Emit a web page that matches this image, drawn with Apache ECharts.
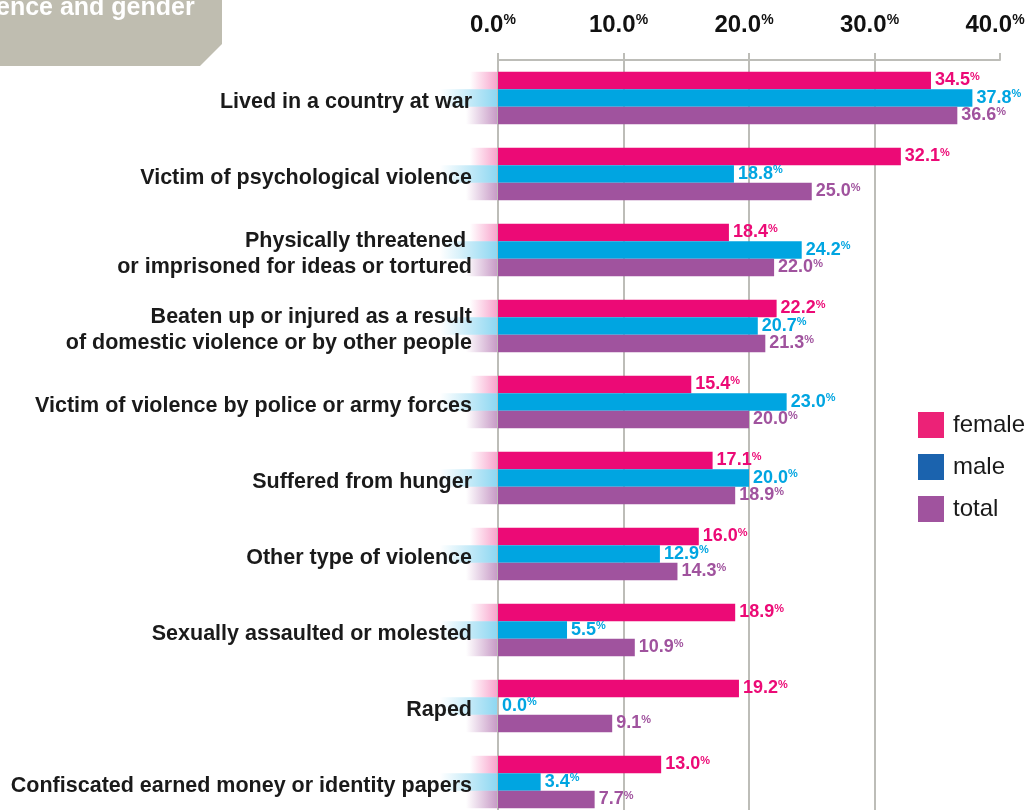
<!DOCTYPE html>
<html>
<head>
<meta charset="utf-8">
<script src="https://cdn.jsdelivr.net/npm/echarts@6/dist/echarts.min.js"></script>
<style>
  html, body { margin: 0; padding: 0; background: #fff; }
  #main { width: 1029px; height: 810px; }
</style>
</head>
<body>
<div id="main"></div>
<script>
// categories, top to bottom
var categories = [
    'Lived in a country at war',
    'Victim of psychological violence',
    'Physically threatened \nor imprisoned for ideas or tortured',
    'Beaten up or injured as a result\nof domestic violence or by other people',
    'Victim of violence by police or army forces',
    'Suffered from hunger',
    'Other type of violence',
    'Sexually assaulted or molested',
    'Raped',
    'Confiscated earned money or identity papers'
];
var female = [34.5, 32.1, 18.4, 22.2, 15.4, 17.1, 16.0, 18.9, 19.2, 13.0];
var male   = [37.8, 18.8, 24.2, 20.7, 23.0, 20.0, 12.9, 5.5, 0.0, 3.4];
var total  = [36.6, 25.0, 22.0, 21.3, 20.0, 18.9, 14.3, 10.9, 9.1, 7.7];
var seriesNames = ['female', 'male', 'total'];

var barColors = ['#ec0a76', '#00a5e1', '#a0539e'];
var legendColors = ['#ec2277', '#1b63ae', '#a0539e'];
var FONT = '"Liberation Sans", Arial, Helvetica, sans-serif';
var CAT_GAP = 0.31;

var myChart = echarts.init(document.getElementById('main'));

function valueLabel(color) {
    return {
        show: true,
        position: 'right',
        distance: 4,
        formatter: function (p) {
            return '{v|' + p.value.toFixed(1) + '}{p|%}';
        },
        rich: {
            v: { fontSize: 18, fontWeight: 'bold', color: color, fontFamily: FONT, lineHeight: 19 },
            p: { fontSize: 11, fontWeight: 'bold', color: color, fontFamily: FONT, lineHeight: 11, verticalAlign: 'top' }
        }
    };
}

function barSeries(i, data) {
    return {
        name: seriesNames[i],
        type: 'bar',
        data: data,
        barGap: 0,
        barCategoryGap: (CAT_GAP * 100) + '%',
        itemStyle: { color: barColors[i] },
        label: valueLabel(barColors[i]),
        z: 3
    };
}

// soft fades on the left of each bar row
var fadeSpec = [
    { len: 28, color: '236,10,118', alpha: 0.38 },
    { len: 58, color: '0,165,225', alpha: 0.45 },
    { len: 32, color: '160,83,158', alpha: 0.6 }
];
function renderFade(params, api) {
    var p = api.coord([0, api.value(1)]);
    var band = api.size([0, 1])[1];
    var w = band * (1 - CAT_GAP) / 3;
    var children = [];
    for (var k = 0; k < 3; k++) {
        var f = fadeSpec[k];
        children.push({
            type: 'rect',
            shape: { x: p[0] - f.len, y: p[1] - 1.5 * w + k * w, width: f.len, height: w },
            style: {
                fill: new echarts.graphic.LinearGradient(0, 0, 1, 0, [
                    { offset: 0, color: 'rgba(' + f.color + ',0)' },
                    { offset: 1, color: 'rgba(' + f.color + ',' + f.alpha + ')' }
                ])
            }
        });
    }
    return { type: 'group', children: children };
}

var option = {
    backgroundColor: '#ffffff',
    animation: false,
    textStyle: { fontFamily: FONT },
    graphic: [
        {
            type: 'polygon',
            shape: { points: [[0, 0], [222, 0], [222, 44], [200, 66], [0, 66]] },
            style: { fill: '#bfbdb0' },
            z: 0
        },
        {
            type: 'text',
            left: -4,
            top: -4,
            style: { text: 'ence and gender', fill: '#ffffff', font: 'bold 25px ' + FONT },
            z: 1
        }
    ],
    legend: {
        orient: 'vertical',
        left: 913,
        top: 407,
        icon: 'rect',
        itemWidth: 26,
        itemHeight: 26,
        itemGap: 16,
        selectedMode: false,
        textStyle: { fontSize: 24, color: '#1a1a1a', fontFamily: FONT, padding: [0, 0, 0, 4] },
        data: seriesNames.map(function (n, i) {
            return { name: n, itemStyle: { color: legendColors[i] } };
        })
    },
    grid: { left: 498, right: 29, top: 60, height: 760, outerBoundsMode: 'none' },
    xAxis: {
        type: 'value',
        position: 'top',
        min: 0,
        max: 40,
        interval: 10,
        axisLine: { show: true, lineStyle: { color: '#bdbdb8', width: 2 } },
        axisTick: { show: true, length: 7, lineStyle: { color: '#bdbdb8', width: 2 } },
        splitLine: { show: true, showMaxLine: false, lineStyle: { color: '#bdbdb8', width: 2 } },
        axisLabel: {
            margin: 23,
            padding: [0, 10, 0, 0],
            formatter: function (v) { return '{v|' + v.toFixed(1) + '}{p|%}'; },
            rich: {
                v: { fontSize: 24, fontWeight: 'bold', color: '#111', fontFamily: FONT, lineHeight: 24 },
                p: { fontSize: 14, fontWeight: 'bold', color: '#111', fontFamily: FONT, lineHeight: 14, verticalAlign: 'top' }
            }
        }
    },
    yAxis: {
        type: 'category',
        inverse: true,
        data: categories,
        axisLine: { show: false },
        axisTick: { show: false },
        axisLabel: {
            margin: 26,
            align: 'right',
            // a thin empty first line nudges the text a little below the band centre
            formatter: function (v) {
                return '{s| }\n' + v.split('\n').map(function (l) { return '{a|' + l + '}'; }).join('\n');
            },
            rich: {
                s: { fontSize: 1, lineHeight: 9 },
                a: { fontSize: 21.5, fontWeight: 'bold', color: '#1a1a1a', fontFamily: FONT, lineHeight: 26, align: 'right' }
            }
        }
    },
    series: [
        {
            name: 'fade',
            type: 'custom',
            renderItem: renderFade,
            data: categories.map(function (c) { return [0, c]; }),
            encode: { x: 0, y: 1 },
            clip: false,
            silent: true,
            z: -1
        },
        barSeries(0, female),
        barSeries(1, male),
        barSeries(2, total)
    ]
};

myChart.setOption(option, true);
</script>
</body>
</html>
